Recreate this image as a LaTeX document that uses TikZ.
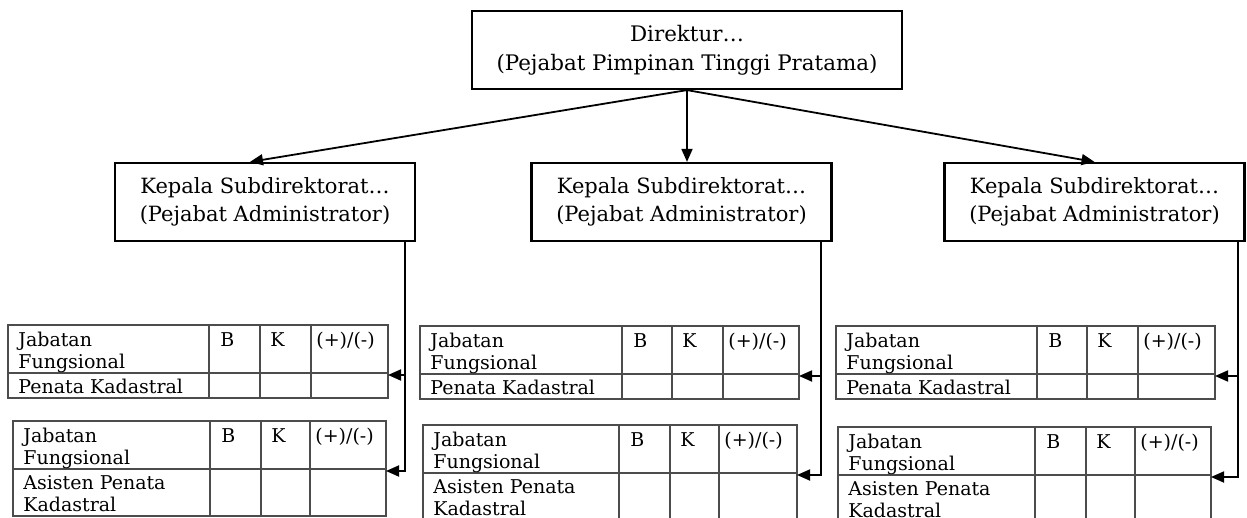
\documentclass[tikz,border=0pt]{standalone}
\usepackage{fontspec}
\setmainfont{DejaVu Serif}
\usetikzlibrary{arrows.meta}

% one "Jabatan Fungsional" table
% #1 name, (#2,#3) top left, #4 width, #5-#7 column lines, #8 lower row height, #9 lower row text
\newcommand{\jftable}[9]{%
  \draw[tabline] (#2,#3) rectangle (#2+#4,#3+48+#8);
  \draw[tabline] (#2,#3+48) -- (#2+#4,#3+48);
  \foreach \c in {#5,#6,#7}
    \draw[tabline] (#2+\c,#3) -- (#2+\c,#3+48+#8);
  \node[cell] (#1-jf) at (#2+10,#3+7) {Jabatan\\Fungsional};
  \node[cell] (#1-b) at (#2+#5+11,#3+7) {B};
  \node[cell] (#1-k) at (#2+#6+10,#3+7) {K};
  \node[cell] (#1-pm) at (#2+#7+5,#3+7) {(+)/(-)};
  \node[cell] (#1-row) at (#2+10,#3+54) {#9};
  \coordinate (#1-in) at (#2+#4,#3+50);
}

\begin{document}
\begin{tikzpicture}[x=0.5pt,y=-0.5pt,
  topbox/.style={draw,line width=1.1pt,minimum width=215pt,minimum height=39pt,
    inner sep=2pt,align=center,font=\fontsize{10.7}{14.5}\selectfont},
  subbox/.style={draw,line width=1.1pt,minimum width=150pt,minimum height=39pt,
    inner sep=2pt,align=center,font=\fontsize{10.5}{14}\selectfont},
  tabline/.style={draw=black!70,line width=0.8pt},
  cell/.style={anchor=north west,inner sep=0pt,align=left,font=\fontsize{9.5}{11}\selectfont},
  conn/.style={line width=0.9pt,-{Triangle[length=6.5pt,width=5.5pt]}}]
\useasboundingbox (0,0) rectangle (1247,518);
\clip (0,0) rectangle (1247,518);

\node[topbox] (dir) at (687,50) {Direktur\dots\\(Pejabat Pimpinan Tinggi Pratama)};
\node[subbox] (sub1) at (265,202) {Kepala Subdirektorat\dots\\(Pejabat Administrator)};
\node[subbox] (sub2) at (681.5,202) {Kepala Subdirektorat\dots\\(Pejabat Administrator)};
\node[subbox] (sub3) at (1094.5,202) {Kepala Subdirektorat\dots\\(Pejabat Administrator)};

\draw[conn] (dir.south) -- ([xshift=-7.5pt]sub1.north);
\draw[conn] (dir.south) -- (dir.south |- sub2.north);
\draw[conn] (dir.south) -- (sub3.north);

% tables
\jftable{lt1}{8}{325}{380}{201}{252}{303}{25}{Penata Kadastral}
\jftable{lt2}{13}{421}{373}{197}{248}{297}{47}{Asisten Penata\\Kadastral}
\jftable{mt1}{420}{326}{379}{202}{252}{303}{25}{Penata Kadastral}
\jftable{mt2}{423}{425}{374}{196}{247}{296}{47}{Asisten Penata\\Kadastral}
\jftable{rt1}{836}{326}{379}{201}{251}{302}{25}{Penata Kadastral}
\jftable{rt2}{838}{427}{373}{197}{248}{297}{47}{Asisten Penata\\Kadastral}

% lines down to the tables
\coordinate (tr1) at ([xshift=-5.5pt]sub1.south east);
\coordinate (tr2) at ([xshift=-5.75pt]sub2.south east);
\coordinate (tr3) at ([xshift=-3.75pt]sub3.south east);
\draw[conn] (tr1) |- (lt2-in);
\draw[conn] (tr1 |- lt1-in) -- (lt1-in);
\draw[conn] (tr2) |- (mt2-in);
\draw[conn] (tr2 |- mt1-in) -- (mt1-in);
\draw[conn] (tr3) |- (rt2-in);
\draw[conn] (tr3 |- rt1-in) -- (rt1-in);
\end{tikzpicture}
\end{document}
